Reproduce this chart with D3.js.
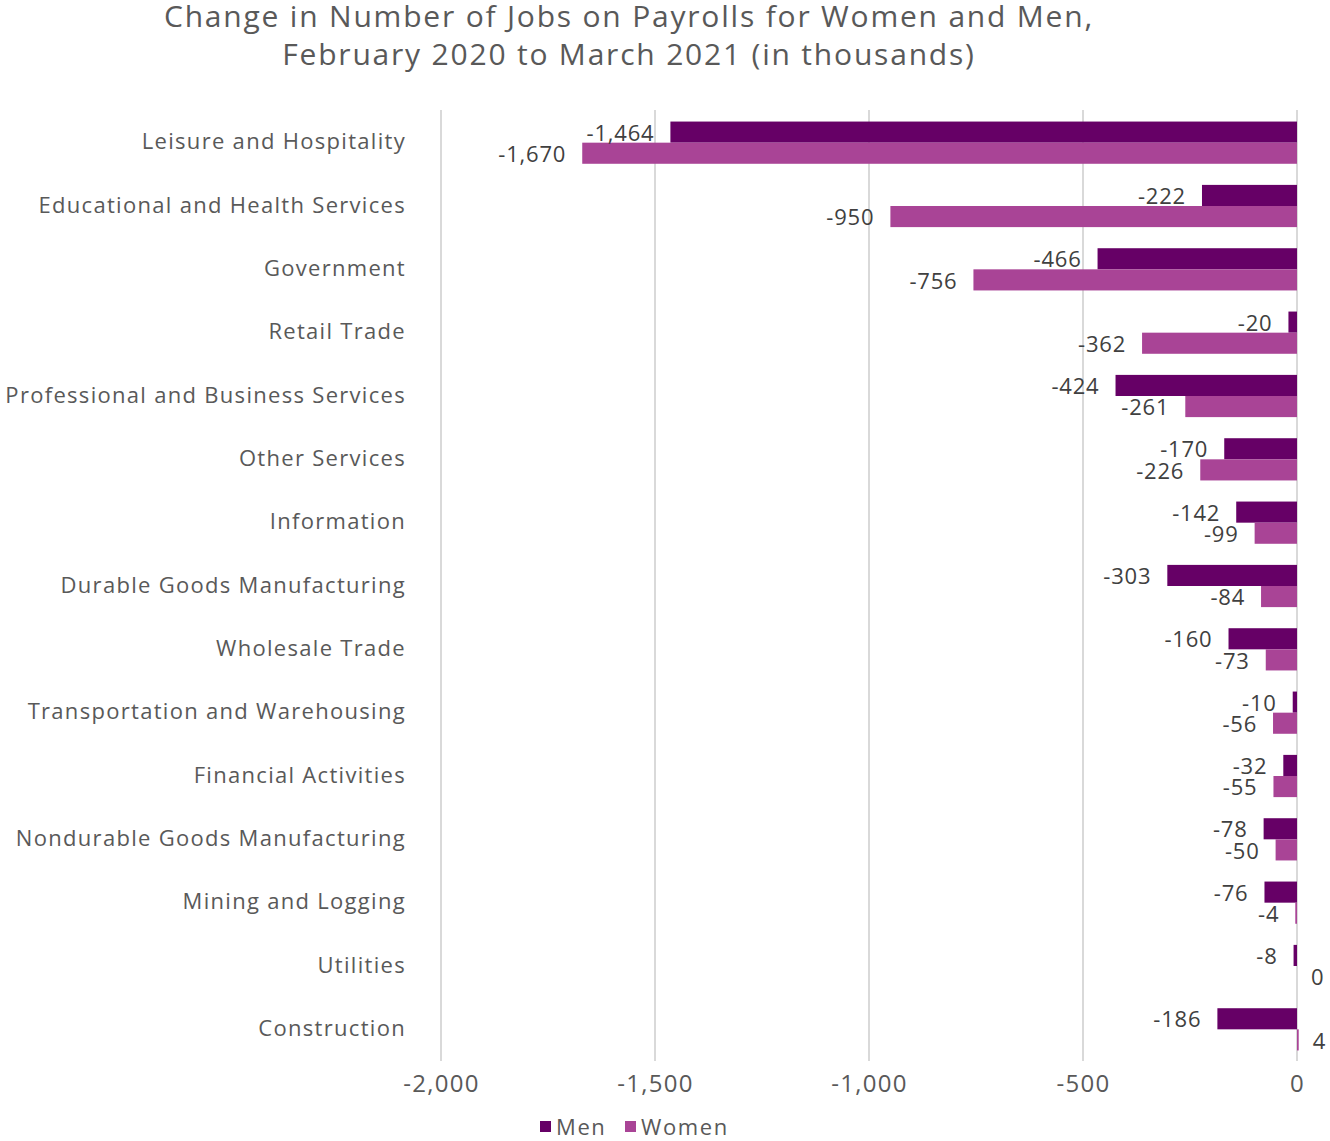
<!DOCTYPE html>
<html>
<head>
<meta charset="utf-8">
<script src="https://cdn.jsdelivr.net/npm/d3@7"></script>
<style>
  body { margin: 0; background: #fff; }
  text { font-family: "Open Sans", Lato, sans-serif; }
</style>
</head>
<body>
<script>
var width = 1330,
    height = 1141;

// data
var categories = ["Leisure and Hospitality", "Educational and Health Services", "Government",
  "Retail Trade", "Professional and Business Services", "Other Services", "Information",
  "Durable Goods Manufacturing", "Wholesale Trade", "Transportation and Warehousing",
  "Financial Activities", "Nondurable Goods Manufacturing", "Mining and Logging",
  "Utilities", "Construction"];
var men   = [-1464, -222, -466, -20, -424, -170, -142, -303, -160, -10, -32, -78, -76, -8, -186];
var women = [-1670, -950, -756, -362, -261, -226, -99, -84, -73, -56, -55, -50, -4, 0, 4];
var seriesNames = ["Men", "Women"];
var colors = ["#660066", "#A94496"];
var xTicks = [-2000, -1500, -1000, -500, 0];

var fmt = d3.formatLocale({decimal: ".", thousands: ",", grouping: [3], currency: ["$", ""], minus: "-"}).format(",");

var rows = categories.map(function(c, i) {
  return {name: c, values: [men[i], women[i]]};
});

var svg = d3.select("body").append("svg")
    .attr("width", width)
    .attr("height", height);

var x = d3.scaleLinear().domain([-2000, 0]).range([441, 1297]);
var y = d3.scaleBand().domain(categories).range([111, 1061]).padding(0);
var ySub = d3.scaleBand().domain(seriesNames).range([0, y.bandwidth()]).paddingInner(0).paddingOuter(0.5);

// title
var title = svg.append("text")
  .attr("text-anchor", "middle")
  .attr("fill", "#595959")
  .style("font-size", "30px")
  .style("letter-spacing", "1.8px");
title.append("tspan").attr("x", 629).attr("y", 27).text("Change in Number of Jobs on Payrolls for Women and Men,");
title.append("tspan").attr("x", 629).attr("y", 65).text("February 2020 to March 2021 (in thousands)");

// gridlines
svg.append("g").selectAll("line")
  .data(xTicks)
  .enter().append("line")
  .attr("x1", function(d) { return x(d); })
  .attr("x2", function(d) { return x(d); })
  .attr("y1", 110)
  .attr("y2", 1061)
  .attr("stroke", "#d9d9d9")
  .attr("stroke-width", 2);

// x axis labels
var xAxis = svg.append("g")
  .attr("transform", "translate(0,1061)")
  .call(d3.axisBottom(x).tickValues(xTicks).tickFormat(fmt).tickSize(0).tickPadding(14));
xAxis.select(".domain").remove();
xAxis.selectAll("text")
  .attr("fill", "#595959")
  .style("font-size", "24px")
  .style("letter-spacing", "1.3px")
  .style("font-family", "'Open Sans', Lato, sans-serif");

// category labels
svg.append("g").selectAll("text")
  .data(categories)
  .enter().append("text")
  .attr("x", 406)
  .attr("y", function(d) { return y(d) + y.bandwidth() / 2 - 1; })
  .attr("dy", "0.35em")
  .attr("text-anchor", "end")
  .attr("fill", "#595959")
  .style("font-size", "22px")
  .style("letter-spacing", "1.3px")
  .text(function(d) { return d; });

// bars
var group = svg.append("g").selectAll("g")
  .data(rows)
  .enter().append("g")
  .attr("transform", function(d) { return "translate(0," + y(d.name) + ")"; });

group.selectAll("rect")
  .data(function(d) { return d.values.map(function(v, i) { return {key: seriesNames[i], value: v, i: i}; }); })
  .enter().append("rect")
  .attr("x", function(d) { return x(Math.min(0, d.value)); })
  .attr("y", function(d) { return ySub(d.key); })
  .attr("width", function(d) { return Math.abs(x(d.value) - x(0)); })
  .attr("height", ySub.bandwidth())
  .attr("fill", function(d) { return colors[d.i]; });

group.selectAll("text")
  .data(function(d) { return d.values.map(function(v, i) { return {key: seriesNames[i], value: v, i: i}; }); })
  .enter().append("text")
  .attr("x", function(d) { return d.value < 0 ? x(d.value) - 16 : x(d.value) + 14; })
  .attr("y", function(d) { return ySub(d.key) + ySub.bandwidth() / 2 + 1; })
  .attr("dy", "0.35em")
  .attr("text-anchor", function(d) { return d.value < 0 ? "end" : "start"; })
  .attr("fill", "#404040")
  .style("font-size", "22px")
  .style("letter-spacing", "0.8px")
  .text(function(d) { return fmt(d.value); });

// legend
var legend = svg.append("g").selectAll("g")
  .data(seriesNames)
  .enter().append("g")
  .attr("transform", function(d, i) { return "translate(" + (540 + i * 85) + ",1121)"; });
legend.append("rect")
  .attr("width", 11)
  .attr("height", 11)
  .attr("fill", function(d, i) { return colors[i]; });
legend.append("text")
  .attr("x", 16)
  .attr("y", 6)
  .attr("dy", "0.35em")
  .attr("fill", "#595959")
  .style("font-size", "22px")
  .style("letter-spacing", "1.6px")
  .text(function(d) { return d; });
</script>
</body>
</html>
